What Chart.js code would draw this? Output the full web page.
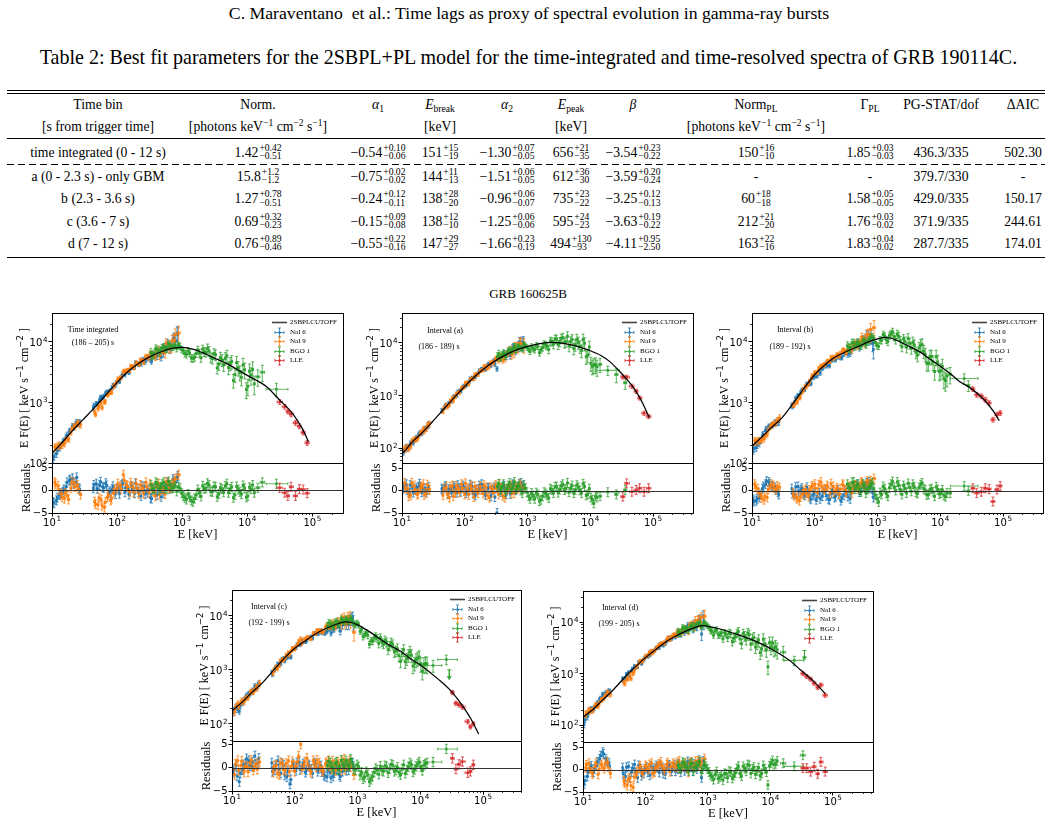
<!DOCTYPE html>
<html><head><meta charset="utf-8">
<script src="https://cdn.jsdelivr.net/npm/chart.js@4.4.1/dist/chart.umd.min.js"></script>
<style>
html,body{margin:0;padding:0;background:#fff;}
#page{position:relative;width:1057px;height:826px;overflow:hidden;font-family:'Liberation Serif','Times New Roman',serif;color:#000;background:#fff;}
.txt{position:absolute;white-space:nowrap;transform:translateX(-50%);}
canvas{position:absolute;}
.rule{position:absolute;left:7px;width:1038px;height:1px;background:#000;}
.dash{position:absolute;left:7px;width:1038px;height:1px;background:repeating-linear-gradient(to right,#000 0 7px,transparent 7px 11px);}
.cell{position:absolute;transform:translateX(-50%);font-size:13.7px;line-height:20px;white-space:nowrap;}
.u{display:inline-block;vertical-align:-2.5px;font-size:9.6px;line-height:8.5px;text-align:left;margin-left:1px;}
.u span{display:block;}
sub,sup{font-size:9.6px;line-height:0;}
sub{vertical-align:-3px;}
sup{vertical-align:5px;}
</style></head>
<body><div id="page"></div>
<script>
// ---------------- table values ----------------
const timeBins = ['time integrated (0 - 12 s)','a (0 - 2.3 s) - only GBM','b (2.3 - 3.6 s)','c (3.6 - 7 s)','d (7 - 12 s)'];
const normV   = [['1.42','+0.42','−0.51'],['15.8','+1.2','−1.2'],['1.27','+0.78','−0.51'],['0.69','+0.32','−0.23'],['0.76','+0.89','−0.46']];
const alpha1V = [['−0.54','+0.10','−0.06'],['−0.75','+0.02','−0.02'],['−0.24','+0.12','−0.11'],['−0.15','+0.09','−0.08'],['−0.55','+0.22','−0.16']];
const ebreakV = [['151','+15','−19'],['144','+11','−13'],['138','+28','−20'],['138','+12','−10'],['147','+29','−27']];
const alpha2V = [['−1.30','+0.07','−0.05'],['−1.51','+0.06','−0.05'],['−0.96','+0.06','−0.07'],['−1.25','+0.06','−0.06'],['−1.66','+0.23','−0.19']];
const epeakV  = [['656','+21','−35'],['612','+36','−30'],['735','+23','−22'],['595','+24','−23'],['494','+130','−93']];
const betaV   = [['−3.54','+0.23','−0.22'],['−3.59','+0.20','−0.24'],['−3.25','+0.12','−0.13'],['−3.63','+0.19','−0.22'],['−4.11','+0.95','−2.50']];
const normPLV = [['150','+16','−10'],['-'],['60','+18','−18'],['212','+21','−20'],['163','+22','−16']];
const gammaPLV= [['1.85','+0.03','−0.03'],['-'],['1.58','+0.05','−0.05'],['1.76','+0.03','−0.02'],['1.83','+0.04','−0.02']];
const pgstatV = [['436.3/335'],['379.7/330'],['429.0/335'],['371.9/335'],['287.7/335']];
const daicV   = [['502.30'],['-'],['150.17'],['244.61'],['174.01']];
const headRow1 = ['Time bin','Norm.','<i>α</i><sub>1</sub>','<i>E</i><sub>break</sub>','<i>α</i><sub>2</sub>','<i>E</i><sub>peak</sub>','<i>β</i>','Norm<sub>PL</sub>','Γ<sub>PL</sub>','PG-STAT/dof','ΔAIC'];
const headRow2 = ['[s from trigger time]','[photons keV<sup>−1</sup> cm<sup>−2</sup> s<sup>−1</sup>]','','[keV]','','[keV]','','[photons keV<sup>−1</sup> cm<sup>−2</sup> s<sup>−1</sup>]','','',''];

// ---------------- spectral data: channel energies (keV), two interleaved channel sets per detector ----------------
const naiE6 = [10.4,11.7,13.1,14.7,16.5,18.5,20.7,23.2,26.0,43,48,54,60,67,75,84,94,105,118,132,148,166,186,208,233,261,292,327,366,410,459,514,576,645,722,790,860];
const naiE6b = [10.7,12.05,13.5,15.15,17.0,19.05,21.3,23.9,26.7,44,49.5,55.5,62,69,77.5,86.5,97,108.5,121.5,136,152.5,171,191.5,214,240,269,301,337,377.5,422.5,473.5,530,594,665,741,835];
const naiE9 = [11.0,12.4,13.9,15.6,17.5,19.6,21.9,24.6,27.5,45,51,57,64,71,80,89,100,112,125,140,157,176,197,220,247,277,310,347,389,435,488,546,612,685,760,880];
const naiE9b = [11.35,12.75,14.3,16.05,18.0,20.15,22.55,25.3,46.5,52.5,58.5,65.5,73,82,91.5,102.5,115,128.5,144,161.5,181,202.5,226.5,254,284.5,318.5,356.5,399.5,447,501,561,628.5,703.5,775];
const naiErr6 = [.14,.13,.12,.11,.11,.10,.10,.11,.12,.09,.085,.08,.08,.075,.075,.075,.075,.075,.075,.075,.075,.075,.075,.08,.08,.085,.09,.10,.11,.12,.13,.15,.17,.19,.22,.25,.30];
const naiErr6b = [.13,.12,.12,.11,.11,.10,.10,.11,.12,.09,.085,.08,.08,.075,.075,.075,.075,.075,.075,.075,.075,.075,.075,.08,.08,.085,.09,.10,.11,.12,.13,.15,.17,.19,.22,.27];
const naiErr9 = [.13,.12,.11,.11,.10,.10,.10,.11,.13,.09,.085,.08,.08,.075,.075,.075,.075,.075,.075,.075,.075,.075,.08,.08,.085,.09,.10,.11,.12,.13,.15,.17,.19,.22,.25,.31];
const naiErr9b = [.12,.12,.11,.11,.10,.10,.10,.11,.085,.08,.08,.075,.075,.075,.075,.075,.075,.075,.075,.075,.075,.08,.08,.085,.09,.10,.11,.12,.13,.15,.17,.19,.22,.25];
const bgoE = [330,370,415,465,520,585,655,735,825,925,1040,1160,1300,1460,1640,1840,2060,2310,2590,2900,3250,3650,4090,4580,5140,5760,6460,7240,8120,9100,10200,11400,12800];
const bgoErr = [.17,.15,.14,.13,.12,.12,.12,.12,.12,.12,.12,.13,.13,.14,.14,.15,.16,.17,.18,.19,.20,.21,.22,.23,.24,.25,.26,.27,.28,.29,.30,.32,.34];
const bgoE2 = [349,392,440,492,552,619,694,779,874,981,1098,1228,1378,1547,1737,1947,2181,2446,2741,3070,3444,3864,4329,4852,5441,6100,6839,7667,8596,9635,10783,12080];
const bgoErr2 = [.16,.145,.135,.125,.12,.12,.12,.12,.12,.12,.125,.13,.135,.14,.145,.155,.165,.175,.185,.195,.205,.215,.225,.235,.245,.255,.265,.275,.285,.295,.31,.33];
const lleErrRel = 0.09;

// ---- Time integrated ----
const p1_n6 = [115,142,179,218,268,334,407,439,460,804,955,1081,1204,1412,1490,1760,1915,2340,2710,2860,3310,3770,3800,4390,4320,5150,5290,5160,6160,5840,7050,6630,8250,7930,10700,10400,13200];
const p1_r6 = [-2.6,-2.2,-1.0,-0.3,0.8,2.2,2.7,1.8,0.5,0.5,1.5,1.2,0.8,1.6,-0.5,0.3,-0.8,0.6,1.2,-0.4,0.2,1.0,-0.6,0.4,-1.2,0.8,-0.5,-1.6,0.3,-1.0,0.5,-0.6,1.2,0.4,2.5,1.8,3.2];
const p1_n6b = [129,161,195,233,291,342,386,473,461,886,949,1214,1263,1483,1556,1927,2117,2227,2959,3173,3133,3834,4525,4235,5060,4679,5614,4764,5923,6930,5603,8070,9487,8772,11477,14048];
const p1_r6b = [-2.8,-1.6,-0.6,0.2,1.8,2.4,1.5,2.9,0.2,1.2,0.4,1.9,0.6,1.1,-0.2,0.9,0.3,-0.7,1.5,0.7,-0.9,0.5,1.6,-0.4,1.0,-0.8,0.2,-1.8,-0.3,0.6,-1.4,0.9,1.7,0.8,2.1,2.8];
const p1_n9 = [183,198,197,208,249,320,407,456,433,699,784,979,1013,1324,1480,1826,2198,2546,3181,3281,3394,3916,4472,4272,4927,5662,5399,6179,5614,7468,7159,6539,8867,8602,10586,13967];
const p1_r9 = [1.8,1.0,-0.8,-1.8,-1.2,0.5,1.6,1.2,-0.9,-2.5,-3.2,-2.0,-3.8,-1.5,-2.2,-0.5,0.5,1.0,3.5,1.2,-0.3,0.8,1.5,-0.8,0.6,1.8,-0.5,0.7,-1.2,1.5,0.3,-0.8,1.5,0.8,2.0,3.5];
const p1_n9b = [180,191,196,237,246,362,396,439,635,860,818,1034,1360,1464,1959,2459,2564,3302,3412,3974,3735,4399,4959,4603,5708,6447,5834,7034,5885,7840,9572,8054,10464,13076];
const p1_r9b = [1.4,0.2,-1.5,-0.6,-2.0,1.9,0.8,0.4,-3.0,-1.6,-3.4,-2.6,-1.0,-1.8,0.2,1.5,0.3,2.2,0.9,1.7,-0.4,0.5,1.2,-0.6,0.9,1.4,-0.2,1.0,-0.9,0.8,1.9,0.4,1.6,2.6];
const p1_bgo = [6670,6390,7490,7290,8320,7570,8510,8270,7790,8450,7130,6240,6550,5320,6470,6550,7580,6770,7080,5320,6120,4280,5040,5380,3780,4740,2890,3730,2610,3460,1850,2830,2030];
const p1_bgoR = [1.2,0.5,1.5,0.8,1.8,0.3,1.2,0.6,-0.2,0.5,-1.2,-2.0,-1.5,-2.5,-1.0,-0.5,1.0,0.5,1.2,-0.3,0.8,-0.8,0.3,1.0,-0.5,0.8,-1.0,0.2,-0.8,0.5,-1.2,0.3,-0.5];
const p1_bgo2 = [6100,7780,6700,8070,7720,9260,8160,8810,8770,7490,6440,7100,5430,5590,7380,5460,6900,7840,5560,6440,3710,5530,4190,5880,4430,2310,4550,3140,4160,1640,3290,3510];
const p1_bgoR2 = [0.3,1.8,0.2,1.4,0.6,2.0,0.5,1.0,0.8,-0.6,-1.6,-0.8,-2.2,-1.8,0.2,-1.3,0.4,1.6,-0.2,0.9,-1.4,0.6,-0.4,1.5,0.3,-1.6,0.9,-0.3,1.1,-1.5,0.7,1.2];
const p1_tailE = [14500,17000,28000], p1_tailLo = [13600,15800,19500], p1_tailHi = [15600,18400,42000];
const p1_tailF = [2650,3160,1650], p1_tailErr = [.3,.3,.25], p1_tailR = [0.6,1.8,1.5];
const p1_lleE = [31400,37500,42000,47000,55000,63000,72000,83000];
const p1_lleF = [1020,850,710,640,460,405,320,215];
const p1_lleR = [0.6,-0.5,-1.2,0.8,-1.2,0.3,0.2,-0.6];
const p1_ulE = [], p1_ulF = [];
const p1_modelE = [10.3,15,20,30,50,70,100,150,200,300,500,700,1000,1500,2000,3000,5000,7000,10000,20000,30000,50000,70000,87000];
const p1_modelF = [150,230,330,520,930,1400,2150,3300,4200,5500,7000,7800,8100,7500,6700,5500,4300,3500,2800,1800,1150,650,370,225];

// ---- Interval (a) ----
const pa_n6 = [85,105,105,133,148,181,192,235,266,513,599,646,775,941,1011,1226,1444,1545,1836,2174,2263,2698,3181,3277,3760,3736,4611,3206,5207,5940,5475,6668,7864,7336,8740,10317,10106];
const pa_r6 = [0.5,1.5,-0.5,0.8,0.2,1.0,-0.3,0.6,0.2,0.5,0.8,-0.6,0.3,1.0,-0.4,0.7,1.2,-0.5,0.2,1.0,-1.0,0.4,1.5,-0.2,0.6,-1.2,0.8,-5.0,0.3,1.0,-0.8,0.5,1.5,0.2,1.0,1.8,1.2];
const pa_n6b = [89,99,122,128,158,192,208,232,286,523,656,715,788,975,1180,1216,1521,1652,2083,2058,2495,2981,3175,3151,3949,4170,3924,5077,5028,6339,6338,5773,8247,8077,10376,9789];
const pa_r6b = [1.0,0.2,1.3,-0.4,0.7,1.6,0.4,-0.2,0.9,0.2,1.1,0.4,-0.3,0.6,1.3,-0.2,0.8,0.1,1.4,-0.6,0.3,1.2,0.5,-0.9,0.7,0.2,-1.4,0.5,-0.3,1.1,0.4,-0.7,1.2,0.6,1.6,0.8];
const pa_n9 = [100,105,109,147,149,190,232,234,289,498,653,666,901,943,1140,1366,1446,1746,2055,2090,2544,2947,3046,3619,3514,4326,4967,4644,5554,4931,6396,7415,6498,8232,9726,9233];
const pa_r9 = [1.8,0.5,-1.0,1.2,-0.8,0.6,1.5,-0.5,0.3,-1.0,0.8,-1.5,1.2,-0.5,0.4,1.5,-0.8,0.6,1.2,-1.4,0.3,1.0,-0.6,0.8,-1.5,0.5,1.3,-0.8,0.6,-1.5,0.4,1.2,-0.5,0.8,1.5,0.6];
const pa_n9b = [94,97,135,144,158,200,206,274,575,604,795,796,1080,1129,1385,1736,1641,2075,2473,2483,2944,3560,3280,4181,4145,4945,5837,4687,6026,7094,5972,8657,8297,9977];
const pa_r9b = [0.6,-1.2,1.8,0.3,-0.6,1.0,-0.9,1.4,0.5,-0.8,0.9,-1.2,1.1,-0.3,0.6,1.7,-0.9,0.4,1.0,-0.5,0.2,1.3,-1.0,0.8,-0.4,0.6,1.5,-1.1,0.3,0.9,-0.6,1.2,0.5,1.1];
const pa_bgo = [5520,5284,6490,6225,7552,7344,7468,8568,7600,8851,7656,8505,7418,8588,7410,9562,8686,10911,9384,11876,10540,12593,10560,8808,11566,9257,10192,7175,9828,5841,4089,3800,3500];
const pa_bgoR = [1.0,0.2,1.5,0.5,1.8,0.8,0.3,1.2,-0.5,0.6,-1.2,-0.5,-1.8,-0.8,-2.0,-0.3,-1.0,0.5,-0.5,1.0,0.3,1.5,0.5,-0.3,1.2,0.2,0.8,-0.5,1.0,-0.8,-1.5,-2.8,-1.5];
const pa_bgo2 = [6240,5940,5550,7070,6920,8700,8250,7910,9440,8210,6860,7820,8860,6520,8140,9090,7450,10530,11870,9280,12130,10120,13350,10580,7900,11570,8600,11520,5450,8320,3600,3900];
const pa_bgoR2 = [1.6,0.8,-0.2,1.2,0.4,2.0,0.9,0.1,1.3,-0.3,-1.8,-1.1,-0.4,-2.3,-1.2,-0.6,-1.6,0.2,0.9,-0.4,1.1,0.2,1.8,0.6,-0.5,1.3,0.1,1.6,-1.0,0.5,-2.0,-1.2];
const pa_tailE = [14300,19000,26000,36000], pa_tailLo = [13600,12500,24500,34000], pa_tailHi = [15100,29000,27500,38000];
const pa_tailF = [3900,3000,2500,1750], pa_tailErr = [.3,.2,.3,.25], pa_tailR = [-1.2,-0.3,-0.8,0.2];
const pa_lleE = [33000,38000,46000,54000,61000,72000,85000];
const pa_lleF = [2250,2230,1500,1200,900,460,400];
const pa_lleR = [-1.3,1.7,-0.2,0.2,0.6,-0.2,0.6];
const pa_ulE = [], pa_ulF = [];
const pa_modelE = [10.3,15,20,30,50,70,100,150,200,300,500,700,1000,1500,2000,2500,3000,5000,7000,10000,15000,20000,30000,40000,50000,65000,87000];
const pa_modelF = [80,135,185,310,610,950,1500,2400,3200,4500,6300,7500,8600,9600,10100,10200,10100,9200,8200,7100,5700,4500,2800,1900,1350,800,380];

// ---- Interval (b) ----
const pb_n6 = [162,179,211,285,343,399,423,465,478,896,994,1302,1465,1662,2031,2145,2559,2730,3324,3642,4307,4246,4962,5134,5959,5538,6298,6818,6468,8112,9086,8342,10485,10133,12935,12401,7490];
const pb_r6 = [-2.0,-2.2,-1.5,0.5,1.5,2.0,1.2,0.8,-0.3,0.5,-0.8,1.0,0.2,-0.5,0.8,-1.5,-1.0,-2.0,-0.5,-1.2,0.3,-1.8,-0.6,-1.5,0.2,-2.2,-1.0,-0.4,-1.8,0.5,1.2,-0.3,1.5,0.6,2.0,1.2,-1.5];
const pb_n6b = [173,198,236,299,362,395,423,457,478,861,1173,1269,1582,1633,1984,2049,2660,2775,3036,3861,3991,4025,5293,5094,5616,5530,6836,6177,7088,8753,9919,8961,10802,12816,11377,9411];
const pb_r6b = [-2.4,-1.8,-0.8,1.0,2.2,1.6,0.9,0.2,-0.8,-0.6,0.9,-0.2,0.6,-1.0,-0.4,-1.9,-0.6,-1.4,-1.8,-0.3,-1.1,-2.0,0.2,-1.2,-0.8,-1.6,0.1,-1.3,-0.5,0.9,1.5,0.2,1.1,1.8,0.6,-0.4];
const pb_n9 = [232,237,239,249,295,391,448,476,552,922,1046,1193,1507,1855,2015,2569,3085,3157,3946,4141,4690,4741,5597,5806,5832,7085,6939,7603,7296,8864,8820,10542,10157,12901,12738,17172];
const pb_r9 = [1.5,0.5,-1.0,-2.0,-1.5,0.8,1.2,0.3,0.8,-0.5,-1.5,-2.2,-0.8,0.3,-1.2,0.8,1.5,-0.3,2.0,0.5,1.2,-0.5,1.0,0.3,-0.8,1.5,0.2,0.8,-0.5,1.2,0.5,1.8,0.8,2.2,1.5,2.8];
const pb_n9b = [225,228,240,278,346,414,441,508,902,1019,1239,1635,1810,2248,2793,3078,3647,4015,4243,4841,5572,5353,6135,6411,7313,6717,8103,8254,9469,9648,11926,11420,13283,16104];
const pb_r9b = [1.0,-0.4,-1.6,-1.2,0.3,1.5,0.6,1.1,-1.1,-1.8,-1.4,0.0,-0.6,0.2,1.1,0.6,1.4,1.0,0.3,0.9,1.6,-0.2,0.7,0.4,1.2,-0.3,1.0,0.6,1.3,0.9,2.0,1.2,1.6,2.3];
const pb_bgo = [8575,7881,9672,9102,8772,10350,8930,10746,12272,9810,8475,10579,12555,10101,13570,12144,13440,10450,11205,8144,9495,9895,6768,7942,9074,6276,4444,5738,3234,4648,3354,2485,2730];
const pb_bgoR = [1.5,0.5,2.0,1.0,0.2,1.5,-0.5,0.8,1.8,-1.0,-2.5,-0.8,0.5,-1.2,1.5,0.8,2.0,0.3,1.2,-0.5,0.8,1.5,-0.3,0.8,1.8,0.2,-0.8,0.5,-1.2,0.3,-0.5,-1.0,-0.5];
const pb_bgo2 = [8120,9700,8430,9990,8590,10410,10020,11880,11290,8700,10880,13280,10890,12790,14680,10920,12450,8340,10170,11450,7840,8890,6060,8840,7020,4430,5720,4630,5660,3240,3950,2300];
const pb_bgoR2 = [0.8,1.9,0.4,1.5,-0.2,1.1,0.3,1.4,0.5,-1.8,-0.4,1.0,-0.6,0.7,2.1,0.1,1.3,-0.8,0.6,1.7,-0.1,0.9,-0.6,1.4,0.5,-0.9,0.3,-0.2,0.9,-0.7,0.2,-1.3];
const pb_tailE = [14300,24000,28000], pb_tailLo = [13600,14500,26500], pb_tailHi = [15100,40000,29500];
const pb_tailF = [2900,2480,1900], pb_tailErr = [.3,.2,.2], pb_tailR = [-0.5,1.1,0.0];
const pb_lleE = [33000,38000,45000,52000,60000,69000,80000,90000];
const pb_lleF = [1670,1340,1270,1110,980,520,630,670];
const pb_lleR = [0.6,-0.5,-0.2,0.6,0.4,-2.4,0.3,1.1];
const pb_ulE = [], pb_ulF = [];
const pb_modelE = [10.3,15,20,30,50,70,100,150,200,300,500,700,1000,1300,1600,2000,3000,5000,7000,10000,15000,20000,30000,50000,70000,87000];
const pb_modelF = [195,280,380,555,1115,1800,2890,4300,5440,6750,8480,9900,11200,11900,11600,10650,8700,6580,5100,3960,2900,2240,1740,1110,720,500];

// ---- Interval (c) ----
const pc_n6 = [162,208,171,246,306,365,386,499,518,901,992,1290,1297,1636,1656,1736,2435,2569,3078,3229,3323,3882,4094,4725,4656,5314,5096,5133,5766,5607,6590,6163,6840,8200,7076,8775,7738];
const pc_r6 = [-1.0,0.5,-3.0,-0.5,0.8,1.5,0.3,2.5,1.0,1.0,-0.5,1.5,-1.2,0.5,-2.0,-3.5,0.8,-0.6,1.2,0.2,-1.0,0.6,-0.3,1.0,-0.8,0.4,-1.5,-2.0,-1.0,-1.8,-0.5,-1.5,-0.8,0.5,-0.5,1.0,0.3];
const pc_n6b = [179,184,215,272,334,349,417,456,554,821,1119,1215,1538,1456,1791,1719,2461,2913,2900,3472,3422,3957,3858,4810,4856,4895,4756,5617,4768,5759,6717,5230,7817,6822,8464,9198];
const pc_r6b = [-0.4,-1.8,-1.2,0.6,1.9,0.4,1.2,0.7,2.0,-0.8,0.6,-0.3,0.9,-1.6,-0.7,-2.6,0.2,1.0,-0.4,0.8,-0.5,0.3,-1.2,0.6,-0.2,-0.9,-1.8,-0.6,-2.2,-1.1,-0.3,-1.9,0.2,-0.6,0.5,0.9];
const pc_n9 = [165,237,248,253,314,378,386,481,565,865,1141,1193,1550,1664,2092,2240,2410,2930,3749,3425,3957,3871,4655,4727,5296,5206,6049,6685,6227,7083,7930,6974,9403,8278,9538,4932];
const pc_r9 = [-1.5,1.5,0.5,-1.0,0.2,1.0,-0.5,0.8,1.2,-1.0,0.5,-1.5,0.8,-0.6,1.5,0.3,-0.8,1.2,5.0,0.5,2.0,-0.5,1.5,0.2,1.0,-0.6,0.8,1.5,-0.3,0.6,1.2,-0.5,1.8,0.5,1.5,-1.5];
const pc_n9b = [203,210,268,286,303,400,417,458,995,1044,1452,1499,1884,1874,2502,2647,3384,3060,3722,3872,3751,4733,5375,5153,5104,6466,6327,7551,6279,7917,9084,7078,9364,7928];
const pc_r9b = [0.8,-0.6,1.4,0.3,-0.9,1.6,0.2,-0.3,0.3,-1.2,1.1,-0.4,0.9,-0.9,1.3,0.4,2.5,-0.3,1.2,0.6,-1.0,0.9,1.6,0.1,-0.8,1.1,0.3,1.4,-0.6,0.7,1.3,-0.4,1.0,0.2];
const pc_bgo = [6396,7119,6411,7924,7446,8154,8855,7880,8140,6745,6834,5518,4485,4346,3430,3915,3860,3971,3008,3257,2796,2957,2250,1817,1989,1412,1865,1863,1326,1642,1288,1265,1280];
const pc_bgoR = [0.5,1.0,-0.3,1.2,0.2,0.8,1.5,0.3,1.0,-0.5,0.2,-1.0,-2.0,-1.5,-2.5,-1.0,-0.5,0.3,-0.8,0.2,-0.2,0.5,-0.5,-1.0,-0.3,-1.2,0.2,0.6,-0.4,0.8,0.2,0.5,1.0];
const pc_bgo2 = [7390,6660,7650,6790,8840,7710,8310,9140,7080,7400,5160,4110,4850,2960,3400,4190,3050,3240,3540,2370,3200,2150,2460,1430,2340,1620,2150,1170,1530,1730,940,1300];
const pc_bgoR2 = [1.3,0.2,0.9,-0.4,1.6,0.1,0.7,1.8,-0.2,0.6,-1.6,-2.4,-0.9,-3.0,-1.9,-0.2,-1.4,-0.6,0.4,-1.1,0.7,-0.8,0.1,-1.5,0.6,-0.5,1.0,-0.9,0.3,1.2,-0.6,0.8];
const pc_tailE = [16000,26000], pc_tailLo = [11500,19000], pc_tailHi = [22000,39000];
const pc_tailF = [1200,1550], pc_tailErr = [.25,.2], pc_tailR = [1.2,4.0];
const pc_lleE = [32500,37000,41500,47000,57000,63000,70000];
const pc_lleF = [380,240,225,205,110,88,100];
const pc_lleR = [2.0,-0.3,0.7,1.3,-1.1,-0.8,0.6];
const pc_ulE = [29000], pc_ulF = [1000];
const pc_modelE = [10.3,15,20,30,50,70,100,150,200,300,500,650,800,1000,1500,2000,3000,5000,7000,10000,20000,30000,40000,50000,65000,85000];
const pc_modelF = [180,260,365,560,1100,1700,2500,3500,4400,5700,7200,7700,7500,6800,5200,4150,3000,2150,1600,1230,650,420,280,195,120,65];

// ---- Interval (d) ----
const pd_n6 = [103,145,196,203,251,315,394,417,454,793,807,1050,1121,1391,1360,1713,1841,2208,2289,2749,3093,3191,3753,3848,4628,4770,5574,5622,5742,6858,6932,8280,7433,8777,11039,5864,10200];
const pd_r6 = [-3.2,-1.5,0.5,-0.5,1.0,2.5,4.0,2.5,1.5,0.5,-1.5,0.8,-0.5,1.2,-1.8,0.3,-0.8,0.6,-1.2,0.4,1.0,-0.6,0.5,-1.0,0.8,-0.3,1.2,0.2,-0.5,1.0,0.3,1.5,-0.2,0.8,2.2,-1.8,1.0];
const pd_n6b = [128,165,204,219,268,330,388,409,439,728,965,895,1233,1299,1650,1575,2005,2142,2658,2724,3177,3684,3544,4250,4950,5160,5147,6441,6516,6295,8561,7957,9389,8356,11289,13052];
const pd_r6b = [-2.4,-0.6,0.9,0.2,1.8,3.2,3.6,1.9,0.8,-0.9,0.6,-1.8,0.4,-0.6,1.0,-1.3,0.2,-0.5,0.9,-0.2,0.6,1.2,-0.8,0.3,1.1,0.5,-0.3,1.4,0.7,-0.2,1.9,0.6,1.3,0.2,1.6,2.0];
const pd_n9 = [161,199,193,234,233,311,337,435,402,693,771,983,992,1337,1626,1735,2132,2321,2733,2766,3232,3762,3928,4505,4548,5505,5590,6555,6544,7434,6631,8865,8387,10595,10114,12963];
const pd_r9 = [0.5,1.5,-0.5,0.8,-1.0,1.2,0.3,1.8,-0.8,-2.5,-3.5,-1.8,-4.0,-1.0,0.5,-0.8,1.0,0.2,1.5,-0.5,0.8,1.8,0.3,1.2,-0.4,1.5,0.6,2.0,0.8,1.5,-0.5,1.8,0.6,2.0,1.2,2.5];
const pd_n9b = [171,186,194,249,262,311,371,406,632,809,794,1126,1397,1751,1827,2189,2572,2472,2982,3512,3816,3928,4907,5073,5586,6394,6043,7075,7169,8579,8775,10704,10939,12216];
const pd_r9b = [1.1,0.3,-0.9,1.5,0.2,0.8,1.4,0.6,-3.0,-2.2,-3.6,-1.6,-0.4,0.9,-0.2,0.6,1.2,-0.8,0.4,1.3,0.9,-0.1,1.6,0.8,1.0,1.7,0.3,1.1,0.6,1.4,1.0,1.9,1.5,1.8];
const pd_bgo = [6440,6234,7552,7227,8064,7372,8640,9794,8670,9072,7790,6597,6809,5624,6163,6227,4974,5920,4831,6096,4708,5990,4606,5687,4698,3273,4480,3000,3773,1350,3300,3100,2900];
const pd_bgoR = [1.0,0.3,1.5,0.5,1.2,-0.3,0.8,1.8,0.2,0.8,-0.5,-1.5,-1.0,-2.0,-1.2,-0.8,-1.8,-0.5,-1.3,0.3,-0.8,0.8,-0.3,1.0,0.2,-1.0,0.5,-0.8,0.3,-3.4,1.5,1.2,2.0];
const pd_bgo2 = [6170,7730,7430,6840,8730,8360,9230,8000,9770,8500,6940,5550,7110,5660,4720,5850,6190,4170,5180,6530,3810,5380,6100,3740,5010,3910,2540,4620,2890,3950,3900,3300];
const pd_bgoR2 = [0.4,1.7,0.9,-0.2,1.5,0.6,1.1,-0.4,1.3,0.2,-1.1,-2.2,-0.4,-1.6,-2.3,-0.9,-0.3,-1.9,-0.7,0.8,-1.4,0.3,1.2,-0.8,0.6,-0.2,-1.3,1.0,-0.5,0.9,2.1,1.4];
const pd_tailE = [16000,24000,33000], pd_tailLo = [14500,16500,30000], pd_tailHi = [17500,34000,36000];
const pd_tailF = [2600,1800,null], pd_tailErr = [.3,.2,.2], pd_tailR = [1.5,0.8,3.3];
const pd_lleE = [33000,38000,44000,50000,57000,64000,75000];
const pd_lleF = [1000,880,780,650,540,600,380];
const pd_lleR = [0.4,0.4,-0.4,0.7,-0.9,1.8,-0.4];
const pd_ulE = [35000], pd_ulF = [2800];
const pd_modelE = [10.3,15,20,30,50,70,100,150,200,300,500,700,850,1000,1500,2000,3000,5000,7000,10000,20000,30000,50000,75000];
const pd_modelF = [145,210,295,475,930,1380,2040,3000,3930,5280,7100,8250,8500,8250,7400,6700,5700,4550,3800,3050,1810,1190,690,410];

// ---------------- labels ----------------
const logTickVals = [10,100,1000,10000,100000];
const logTickBase = '10';
const logTickExp = ['1','2','3','4','5'];
const resTickVals = [-5,0,5];
const resTickLabels = ['−5','0','5'];
const legendLabels = ['2SBPLCUTOFF','NaI 6','NaI 9','BGO 1','LLE'];
const panelTitles = [['Time integrated','(186 – 205) s'],['Interval (a)','(186 - 189) s'],['Interval (b)','(189 - 192) s'],['Interval (c)','(192 - 199) s'],['Interval (d)','(199 - 205) s']];
const yMainTitleParts = [['E F(E) [ keV s',0],['−1',1],[' cm',0],['−2',1],[' ]',0]];
const yResTitle = 'Residuals';
const xTitle = 'E [keV]';

// ---------------- page text ----------------
const page = document.getElementById('page');
function txt(html, x, y, size) {
  const d = document.createElement('div'); d.className = 'txt';
  d.style.left = x + 'px'; d.style.top = (y - size * 0.6) + 'px';
  d.style.fontSize = size + 'px'; d.style.lineHeight = (size * 1.2) + 'px';
  d.innerHTML = html; page.appendChild(d); return d;
}
txt('C. Maraventano&nbsp; et al.: Time lags as proxy of spectral evolution in gamma-ray bursts', 529, 14, 17.7);
txt('Table 2: Best fit parameters for the 2SBPL+PL model for the time-integrated and time-resolved spectra of GRB 190114C.', 528.5, 57, 20.05);
txt('GRB 160625B', 528, 294, 13);

function rule(y, cls) { const d = document.createElement('div'); d.className = cls || 'rule'; d.style.top = y + 'px'; page.appendChild(d); }
rule(90); rule(93); rule(138); rule(164, 'dash'); rule(257);

const colX = [98, 258, 378, 440, 507, 571, 633, 756, 870, 941, 1023];
function cell(html, x, y) {
  const d = document.createElement('div'); d.className = 'cell';
  d.style.left = x + 'px'; d.style.top = (y - 10) + 'px'; d.innerHTML = html; page.appendChild(d);
}
function val(v) { return v.length === 1 ? v[0] : v[0] + '<span class="u"><span>' + v[1] + '</span><span>' + v[2] + '</span></span>'; }
headRow1.forEach((h, i) => cell(h, colX[i], 105));
headRow2.forEach((h, i) => { if (h) cell(h, colX[i], 126.5); });
const rowY = [152.5, 176.5, 199, 221.5, 243.5];
const cols = [null, normV, alpha1V, ebreakV, alpha2V, epeakV, betaV, normPLV, gammaPLV, pgstatV, daicV];
rowY.forEach((y, r) => {
  cell(timeBins[r], colX[0], y);
  for (let c = 1; c < cols.length; c++) cell(val(cols[c][r]), colX[c], y);
});

// ---------------- chart helpers ----------------
const SANS = "'DejaVu Sans', sans-serif";
const SERIF = "'Liberation Serif', 'Times New Roman', serif";
Chart.defaults.font.family = SANS;
Chart.defaults.color = '#000';
const RGB = {n6:'31,119,180', n9:'255,127,14', bgo:'44,160,44', lle:'214,39,40'};
const TICKFONT = {family: SANS, size: 10};

function edges(E, f) {
  const lo = [], hi = [];
  for (let i = 0; i < E.length; i++) {
    const rl = (i > 0 && E[i] / E[i-1] < 1.35) ? Math.sqrt(E[i] / E[i-1]) : null;
    const rr = (i < E.length - 1 && E[i+1] / E[i] < 1.35) ? Math.sqrt(E[i+1] / E[i]) : null;
    const l = rl || rr || 1.05, r = rr || rl || 1.05;
    lo.push(E[i] / Math.pow(l, f)); hi.push(E[i] * Math.pow(r, f));
  }
  return [lo, hi];
}
function mergeOrder(Ea, Eb) { return Ea.map((e, i) => [e, 0, i]).concat(Eb.map((e, i) => [e, 1, i])).sort((p, q) => p[0] - q[0]); }
function pick(ord, a, b) { return ord.map(t => t[1] ? b[t[2]] : a[t[2]]); }
function pts(E, Y) { const d = []; for (let i = 0; i < E.length; i++) if (Y[i] != null) d.push({x: E[i], y: Y[i]}); return d; }
function bars(E, Y, eY, lo, hi) {
  const d = [];
  for (let i = 0; i < E.length; i++) {
    if (Y[i] == null) continue;
    d.push({x: E[i], y: Y[i] - eY[i]}, {x: E[i], y: Y[i] + eY[i]}, {x: E[i], y: null});
    d.push({x: lo[i], y: Y[i]}, {x: hi[i], y: Y[i]}, {x: E[i], y: null});
  }
  return d;
}
function barSet(data, rgb) {
  const c = 'rgba(' + rgb + ',0.72)';
  return {data, showLine: true, spanGaps: false, borderColor: c, borderWidth: 1.1, fill: false, tension: 0,
    pointStyle: 'line', pointRadius: ctx => (ctx.index % 3 === 2 ? 0 : 1.5),
    pointRotation: ctx => (Math.floor(ctx.index / 3) % 2 ? 90 : 0),
    pointBorderColor: c, pointBorderWidth: 1.1, pointHoverRadius: 0};
}
function mkSet(data, rgb) {
  return {data, showLine: false, pointStyle: 'rect', pointRadius: 1.8, pointBackgroundColor: 'rgba(' + rgb + ',0.9)',
    pointBorderWidth: 0, pointHoverRadius: 0};
}

const mplPlugin = {
  id: 'mpl',
  afterDatasetsDraw(chart) {
    const o = chart.options.plugins.mpl; if (!o) return;
    const {ctx, chartArea: a} = chart;
    if (o.kind === 'res') {
      const y0 = Math.round(chart.scales.y.getPixelForValue(0)) + 0.5;
      ctx.save(); ctx.strokeStyle = '#333'; ctx.lineWidth = 1.1;
      ctx.beginPath(); ctx.moveTo(a.left, y0); ctx.lineTo(a.right, y0); ctx.stroke(); ctx.restore();
    }
  },
  afterDraw(chart) {
    const o = chart.options.plugins.mpl; if (!o) return;
    const {ctx, chartArea: a} = chart;
    ctx.save();
    ctx.strokeStyle = '#000'; ctx.lineWidth = 1;
    ctx.strokeRect(Math.round(a.left) + 0.5, Math.round(a.top) + 0.5, Math.round(a.right - a.left), Math.round(a.bottom - a.top));
    const minor = (scale, horiz) => {
      const lo = Math.floor(Math.log10(scale.min)), hi = Math.ceil(Math.log10(scale.max));
      ctx.beginPath();
      for (let d = lo; d <= hi; d++) for (let k = 2; k <= 9; k++) {
        const v = k * Math.pow(10, d);
        if (v <= scale.min || v >= scale.max) continue;
        const p = Math.round(scale.getPixelForValue(v)) + 0.5;
        if (horiz) { ctx.moveTo(p, a.bottom); ctx.lineTo(p, a.bottom + 2); }
        else { ctx.moveTo(a.left, p); ctx.lineTo(a.left - 2, p); }
      }
      ctx.lineWidth = 0.8; ctx.stroke();
    };
    const drawPow = (x, y, exp, align) => {
      ctx.font = '10px ' + SANS; const w1 = ctx.measureText(logTickBase).width;
      ctx.font = '7.2px ' + SANS; const w2 = ctx.measureText(exp).width;
      const tot = w1 + w2 + 0.6;
      const x0 = align === 'right' ? x - tot : x - tot / 2;
      ctx.textAlign = 'left'; ctx.textBaseline = 'alphabetic'; ctx.fillStyle = '#000';
      ctx.font = '10px ' + SANS; ctx.fillText(logTickBase, x0, y);
      ctx.font = '7.2px ' + SANS; ctx.fillText(exp, x0 + w1 + 0.6, y - 4.3);
    };
    const drawRot = (parts, cx, cy) => {
      ctx.save(); ctx.translate(cx, cy); ctx.rotate(-Math.PI / 2);
      const fonts = parts.map(p => p[1] ? '8.6px ' + SANS : '12px ' + SERIF);
      const ws = parts.map((p, i) => { ctx.font = fonts[i]; return ctx.measureText(p[0]).width; });
      let x = -ws.reduce((s, w) => s + w, 0) / 2;
      ctx.textAlign = 'left'; ctx.textBaseline = 'middle'; ctx.fillStyle = '#000';
      parts.forEach((p, i) => { ctx.font = fonts[i]; ctx.fillText(p[0], x, p[1] ? -4.2 : 0); x += ws[i]; });
      ctx.restore();
    };
    if (o.kind === 'main') {
      minor(chart.scales.y, false);
      const ys = chart.scales.y;
      ys.ticks.forEach(t => {
        const i = logTickVals.indexOf(t.value); if (i < 0) return;
        drawPow(a.left - 4.5, ys.getPixelForValue(t.value) + 4.2, logTickExp[i], 'right');
      });
      drawRot(yMainTitleParts, a.left - 27, (a.top + a.bottom) / 2);
    }
    if (o.kind === 'res') {
      minor(chart.scales.x, true);
      const xs = chart.scales.x;
      xs.ticks.forEach(t => {
        const i = logTickVals.indexOf(t.value); if (i < 0) return;
        drawPow(xs.getPixelForValue(t.value), a.bottom + 12.5, logTickExp[i], 'center');
      });
      ctx.save(); ctx.translate(a.left - 25, (a.top + a.bottom) / 2); ctx.rotate(-Math.PI / 2);
      ctx.font = '12.5px ' + SERIF; ctx.textAlign = 'center'; ctx.textBaseline = 'middle'; ctx.fillStyle = '#000';
      ctx.fillText(yResTitle, 0, 0); ctx.restore();
    }
    if (o.kind === 'main') {
      const R = a.right, T = a.top;
      ctx.textBaseline = 'middle'; ctx.textAlign = 'left'; ctx.fillStyle = '#000';
      ctx.font = '7px ' + SERIF;
      const cols = [null, RGB.n6, RGB.n9, RGB.bgo, RGB.lle];
      legendLabels.forEach((lab, i) => {
        const y = Math.round(T + 9 + i * 9.5);
        if (i === 0) {
          ctx.strokeStyle = '#444'; ctx.lineWidth = 1.6;
          ctx.beginPath(); ctx.moveTo(R - 71, y + 0.5); ctx.lineTo(R - 56, y + 0.5); ctx.stroke();
        } else {
          const cx = R - 63.5, c = 'rgba(' + cols[i] + ',0.8)';
          ctx.strokeStyle = c; ctx.lineWidth = 1;
          ctx.beginPath();
          ctx.moveTo(cx - 4.5, y + 0.5); ctx.lineTo(cx + 4.5, y + 0.5);
          ctx.moveTo(cx, y - 4); ctx.lineTo(cx, y + 5);
          ctx.moveTo(cx - 4.5, y - 1); ctx.lineTo(cx - 4.5, y + 2);
          ctx.moveTo(cx + 4.5, y - 1); ctx.lineTo(cx + 4.5, y + 2);
          ctx.moveTo(cx - 1.5, y - 4); ctx.lineTo(cx + 1.5, y - 4);
          ctx.moveTo(cx - 1.5, y + 5); ctx.lineTo(cx + 1.5, y + 5);
          ctx.stroke();
          ctx.fillStyle = 'rgba(' + cols[i] + ',0.95)'; ctx.fillRect(cx - 1, y - 0.5, 2.2, 2.2);
          ctx.fillStyle = '#000';
        }
        ctx.fillText(lab, R - 53, y + 0.5);
      });
      ctx.textAlign = 'center'; ctx.font = '8px ' + SERIF;
      (o.notes || []).forEach(n => ctx.fillText(n[0], a.left + n[1], a.top + n[2]));
    }
    ctx.restore();
  }
};

function addCanvas(l, t, w, h) {
  const c = document.createElement('canvas');
  c.width = w; c.height = h; c.style.left = l + 'px'; c.style.top = t + 'px';
  c.style.width = w + 'px'; c.style.height = h + 'px'; page.appendChild(c); return c;
}
function logTicks(s) { s.ticks = logTickVals.filter(v => v >= s.min * 0.999 && v <= s.max * 1.001).map(v => ({value: v})); }
const gridOpt = {display: true, drawOnChartArea: false, drawTicks: true, tickLength: 3.5, tickColor: '#000', tickWidth: 1};

const panels = [
  {L:52, T:313, W:291, H:150, xMax:2.95e5, yMin:100, yMax:3.0e4, rMax:6.1, k:'p1', notes:[[41,17],[41,30]]},
  {L:402, T:313, W:291, H:150, xMax:4.33e5, yMin:52, yMax:3.7e4, rMax:6.3, k:'pa', notes:[[43,18],[37,34]]},
  {L:752, T:313, W:291, H:150, xMax:4.33e5, yMin:100, yMax:3.0e4, rMax:6.3, k:'pb', notes:[[43,16.5],[38,34]]},
  {L:232, T:590, W:289, H:151, xMax:4.03e5, yMin:48, yMax:3.0e4, rMax:5.7, k:'pc', notes:[[37,17],[37,33]]},
  {L:583, T:591, W:290, H:151, xMax:4.37e5, yMin:47, yMax:4.0e4, rMax:6.3, k:'pd', notes:[[37,16.5],[36,32.5]]}
];
const mk = p => ({n6:p+'_n6', r6:p+'_r6', n6b:p+'_n6b', r6b:p+'_r6b', n9:p+'_n9', r9:p+'_r9', n9b:p+'_n9b', r9b:p+'_r9b'});
const DATA = {
  p1:{n6:p1_n6,r6:p1_r6,n6b:p1_n6b,r6b:p1_r6b,n9:p1_n9,r9:p1_r9,n9b:p1_n9b,r9b:p1_r9b,bgo:p1_bgo,bgoR:p1_bgoR,bgo2:p1_bgo2,bgoR2:p1_bgoR2,tE:p1_tailE,tLo:p1_tailLo,tHi:p1_tailHi,tF:p1_tailF,tErr:p1_tailErr,tR:p1_tailR,lE:p1_lleE,lF:p1_lleF,lR:p1_lleR,ulE:p1_ulE,ulF:p1_ulF,mE:p1_modelE,mF:p1_modelF},
  pa:{n6:pa_n6,r6:pa_r6,n6b:pa_n6b,r6b:pa_r6b,n9:pa_n9,r9:pa_r9,n9b:pa_n9b,r9b:pa_r9b,bgo:pa_bgo,bgoR:pa_bgoR,bgo2:pa_bgo2,bgoR2:pa_bgoR2,tE:pa_tailE,tLo:pa_tailLo,tHi:pa_tailHi,tF:pa_tailF,tErr:pa_tailErr,tR:pa_tailR,lE:pa_lleE,lF:pa_lleF,lR:pa_lleR,ulE:pa_ulE,ulF:pa_ulF,mE:pa_modelE,mF:pa_modelF},
  pb:{n6:pb_n6,r6:pb_r6,n6b:pb_n6b,r6b:pb_r6b,n9:pb_n9,r9:pb_r9,n9b:pb_n9b,r9b:pb_r9b,bgo:pb_bgo,bgoR:pb_bgoR,bgo2:pb_bgo2,bgoR2:pb_bgoR2,tE:pb_tailE,tLo:pb_tailLo,tHi:pb_tailHi,tF:pb_tailF,tErr:pb_tailErr,tR:pb_tailR,lE:pb_lleE,lF:pb_lleF,lR:pb_lleR,ulE:pb_ulE,ulF:pb_ulF,mE:pb_modelE,mF:pb_modelF},
  pc:{n6:pc_n6,r6:pc_r6,n6b:pc_n6b,r6b:pc_r6b,n9:pc_n9,r9:pc_r9,n9b:pc_n9b,r9b:pc_r9b,bgo:pc_bgo,bgoR:pc_bgoR,bgo2:pc_bgo2,bgoR2:pc_bgoR2,tE:pc_tailE,tLo:pc_tailLo,tHi:pc_tailHi,tF:pc_tailF,tErr:pc_tailErr,tR:pc_tailR,lE:pc_lleE,lF:pc_lleF,lR:pc_lleR,ulE:pc_ulE,ulF:pc_ulF,mE:pc_modelE,mF:pc_modelF},
  pd:{n6:pd_n6,r6:pd_r6,n6b:pd_n6b,r6b:pd_r6b,n9:pd_n9,r9:pd_r9,n9b:pd_n9b,r9b:pd_r9b,bgo:pd_bgo,bgoR:pd_bgoR,bgo2:pd_bgo2,bgoR2:pd_bgoR2,tE:pd_tailE,tLo:pd_tailLo,tHi:pd_tailHi,tF:pd_tailF,tErr:pd_tailErr,tR:pd_tailR,lE:pd_lleE,lF:pd_lleF,lR:pd_lleR,ulE:pd_ulE,ulF:pd_ulF,mE:pd_modelE,mF:pd_modelF}
};

// merged channel orders
const o6 = mergeOrder(naiE6, naiE6b), o9 = mergeOrder(naiE9, naiE9b), oB = mergeOrder(bgoE, bgoE2);
const n6E = pick(o6, naiE6, naiE6b), n6Err = pick(o6, naiErr6, naiErr6b);
const n9E = pick(o9, naiE9, naiE9b), n9Err = pick(o9, naiErr9, naiErr9b);
const bgoAllE = pick(oB, bgoE, bgoE2), bgoAllErr = pick(oB, bgoErr, bgoErr2);
const [n6Lo, n6Hi] = edges(n6E, 0.9);
const [n9Lo, n9Hi] = edges(n9E, 0.9);
const [bLo, bHi] = edges(bgoAllE, 1.0);

panels.forEach((P, pi) => {
  const D = DATA[P.k];
  const F6 = pick(o6, D.n6, D.n6b), R6 = pick(o6, D.r6, D.r6b);
  const F9 = pick(o9, D.n9, D.n9b), R9 = pick(o9, D.r9, D.r9b);
  const bF = pick(oB, D.bgo, D.bgo2), bR = pick(oB, D.bgoR, D.bgoR2);
  const BE = bgoAllE.concat(D.tE), BF = bF.concat(D.tF), BR = bR.concat(D.tR);
  const BErr = bgoAllErr.concat(D.tErr), BLo = bLo.concat(D.tLo), BHi = bHi.concat(D.tHi);
  const [lLo, lHi] = edges(D.lE, 1.0);
  const ones = a => a.map(() => 1);
  const absErr = (F, rel) => F.map((f, i) => f == null ? 0 : f * (Array.isArray(rel) ? rel[i] : rel));

  // ---- main spectrum ----
  const ulData = [];
  D.ulE.forEach((e, i) => { ulData.push({x: e, y: D.ulF[i]}, {x: e, y: D.ulF[i] * 0.72}, {x: e, y: null}); });
  const mainSets = [
    {data: pts(D.mE, D.mF), borderColor: '#000', borderWidth: 1.25, pointRadius: 0, cubicInterpolationMode: 'monotone', fill: false},
    barSet(bars(D.lE, D.lF, absErr(D.lF, lleErrRel), lLo, lHi), RGB.lle), mkSet(pts(D.lE, D.lF), RGB.lle),
    {data: ulData, showLine: true, spanGaps: false, borderColor: 'rgba(' + RGB.bgo + ',0.75)', borderWidth: 1,
      pointStyle: ctx => (ctx.index % 3 === 1 ? 'triangle' : 'line'), pointRotation: ctx => (ctx.index % 3 === 1 ? 180 : 0),
      pointRadius: ctx => (ctx.index % 3 === 2 ? 0 : 2.2), pointBorderColor: 'rgba(' + RGB.bgo + ',0.8)',
      pointBackgroundColor: 'rgba(' + RGB.bgo + ',0.8)', pointBorderWidth: 1},
    barSet(bars(BE, BF, absErr(BF, BErr), BLo, BHi), RGB.bgo), mkSet(pts(BE, BF), RGB.bgo),
    barSet(bars(n9E, F9, absErr(F9, n9Err), n9Lo, n9Hi), RGB.n9), mkSet(pts(n9E, F9), RGB.n9),
    barSet(bars(n6E, F6, absErr(F6, n6Err), n6Lo, n6Hi), RGB.n6), mkSet(pts(n6E, F6), RGB.n6)
  ];
  const cm = addCanvas(P.L - 45, P.T - 8, P.W + 51, P.H + 16);
  new Chart(cm, {
    type: 'line', data: {datasets: mainSets}, plugins: [mplPlugin],
    options: {
      responsive: false, animation: false, devicePixelRatio: 1, events: [],
      layout: {padding: {left: 0, top: 8, right: 6, bottom: 8}},
      plugins: {legend: {display: false}, tooltip: {enabled: false},
        mpl: {kind: 'main', notes: P.notes.map((n, i) => [panelTitles[pi][i], n[0], n[1]])}},
      scales: {
        x: {type: 'logarithmic', min: 10, max: P.xMax, display: false},
        y: {type: 'logarithmic', min: P.yMin, max: P.yMax, position: 'left',
          afterFit: s => { s.width = 45; }, afterBuildTicks: logTicks,
          ticks: {display: false, autoSkip: false},
          grid: gridOpt, border: {display: false}, title: {display: false}}
      }
    }
  });

  // ---- residuals ----
  const resSets = [
    barSet(bars(D.lE, D.lR, ones(D.lR), lLo, lHi), RGB.lle), mkSet(pts(D.lE, D.lR), RGB.lle),
    barSet(bars(BE, BR, ones(BR), BLo, BHi), RGB.bgo), mkSet(pts(BE, BR), RGB.bgo),
    barSet(bars(n9E, R9, ones(R9), n9Lo, n9Hi), RGB.n9), mkSet(pts(n9E, R9), RGB.n9),
    barSet(bars(n6E, R6, ones(R6), n6Lo, n6Hi), RGB.n6), mkSet(pts(n6E, R6), RGB.n6)
  ];
  const cr = addCanvas(P.L - 45, P.T + P.H - 8, P.W + 51, 8 + 50 + 30);
  new Chart(cr, {
    type: 'line', data: {datasets: resSets}, plugins: [mplPlugin],
    options: {
      responsive: false, animation: false, devicePixelRatio: 1, events: [],
      layout: {padding: {left: 0, top: 8, right: 6, bottom: 0}},
      plugins: {legend: {display: false}, tooltip: {enabled: false}, mpl: {kind: 'res'}},
      scales: {
        x: {type: 'logarithmic', min: 10, max: P.xMax, position: 'bottom',
          afterFit: s => { s.height = 30; }, afterBuildTicks: logTicks,
          ticks: {display: false, autoSkip: false, maxRotation: 0},
          grid: gridOpt, border: {display: false},
          title: {display: true, text: xTitle, color: '#000', font: {family: SERIF, size: 12.5}, padding: {top: 0, bottom: 0.5}}},
        y: {type: 'linear', min: -5, max: P.rMax, position: 'left',
          afterFit: s => { s.width = 45; },
          afterBuildTicks: s => { s.ticks = resTickVals.map(v => ({value: v})); },
          ticks: {callback: v => resTickLabels[resTickVals.indexOf(v)], font: TICKFONT, color: '#000', padding: 1, autoSkip: false},
          grid: gridOpt, border: {display: false}, title: {display: false}}
      }
    }
  });
});
</script>
</body></html>
